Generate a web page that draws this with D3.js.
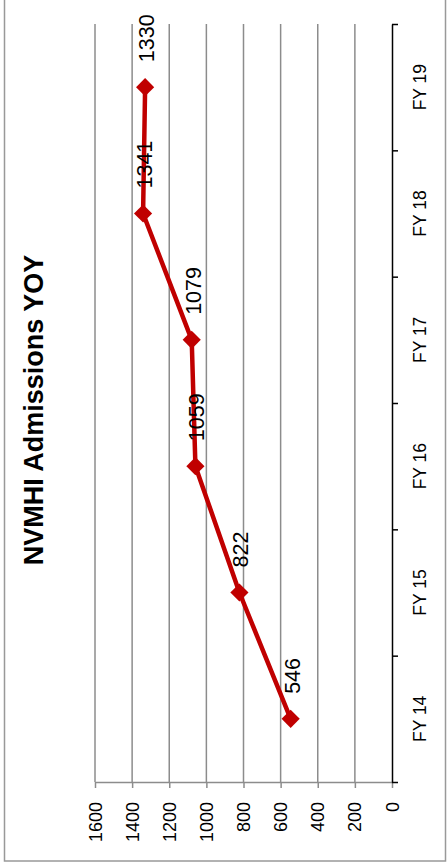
<!DOCTYPE html>
<html>
<head>
<meta charset="utf-8">
<script src="https://cdn.jsdelivr.net/npm/d3@7"></script>
<style>
  body { margin: 0; background: #fff; }
  text { font-family: "Liberation Sans", Arial, sans-serif; fill: #000; }
</style>
</head>
<body>
<div id="chart"></div>
<script>
// chart data (the chart is drawn turned a quarter turn, as in the picture)
const categories = ['FY 14', 'FY 15', 'FY 16', 'FY 17', 'FY 18', 'FY 19'];
const admissions = [546, 822, 1059, 1079, 1341, 1330];
const valueTicks = [0, 200, 400, 600, 800, 1000, 1200, 1400, 1600];
const title = 'NVMHI Admissions YOY';

const svgWidth = 448;
const svgHeight = 864;
const plot = { left: 95, right: 392, top: 24, bottom: 782 };
const lineColor = '#c00000';
const gridColor = '#8c8c8c';

const svg = d3.select('#chart').append('svg')
    .attr('width', svgWidth)
    .attr('height', svgHeight);

// outer chart border
svg.append('rect')
    .attr('x', 4.5)
    .attr('y', -5)
    .attr('width', 441)
    .attr('height', 866)
    .style('fill', 'none')
    .style('stroke', '#999')
    .style('stroke-width', 1.5);

// value scale runs right (0) to left (1600)
const xScale = d3.scaleLinear()
    .domain([0, 1600])
    .range([plot.right, plot.left]);

// categories run bottom to top
const yBand = d3.scaleBand()
    .domain(categories)
    .range([plot.bottom, plot.top]);

const yIndex = d3.scaleLinear()
    .domain([0, categories.length])
    .range([plot.bottom, plot.top]);

// gridlines
svg.append('g').selectAll('line')
    .data(valueTicks.filter(d => d > 0))
    .enter().append('line')
    .attr('x1', d => xScale(d))
    .attr('x2', d => xScale(d))
    .attr('y1', plot.top)
    .attr('y2', plot.bottom)
    .style('stroke', gridColor)
    .style('stroke-width', 1.5);

// value axis along the bottom
const xAxis = d3.axisBottom(xScale)
    .tickValues(valueTicks)
    .tickFormat(d3.format('d'))
    .tickSize(6)
    .tickSizeOuter(0);
const gx = svg.append('g')
    .attr('transform', `translate(0,${plot.bottom})`)
    .call(xAxis);
gx.select('.domain').style('stroke', gridColor).style('stroke-width', 1.5);
gx.selectAll('.tick line').style('stroke', gridColor).style('stroke-width', 1.5);
gx.selectAll('.tick text')
    .attr('y', 0)
    .attr('x', 0)
    .attr('dy', null)
    .attr('transform', 'translate(0,20) rotate(-90)')
    .attr('dominant-baseline', 'central')
    .style('text-anchor', 'end')
    .style('font-size', '18px')
    .style('font-family', '"Liberation Sans", Arial, sans-serif');

// category axis on the right, ticks between categories
const yAxis = d3.axisRight(yIndex)
    .tickValues(d3.range(0, categories.length + 1))
    .tickFormat('')
    .tickSize(6)
    .tickSizeOuter(0);
const gy = svg.append('g')
    .attr('transform', `translate(${plot.right},0)`)
    .call(yAxis);
gy.select('.domain').style('stroke', '#000').style('stroke-width', 1.5);
gy.selectAll('.tick line').style('stroke', '#000').style('stroke-width', 1.5);

svg.append('g').selectAll('text')
    .data(categories)
    .enter().append('text')
    .attr('transform', d => `translate(420,${yBand(d) + yBand.bandwidth() / 2}) rotate(-90)`)
    .attr('text-anchor', 'middle')
    .attr('dominant-baseline', 'central')
    .style('font-size', '17.5px')
    .text(d => d);

// the line
const points = categories.map((c, i) => ({ cat: c, value: admissions[i] }));
const line = d3.line()
    .x(d => xScale(d.value))
    .y(d => yBand(d.cat) + yBand.bandwidth() / 2);

svg.append('path')
    .datum(points)
    .attr('d', line)
    .style('fill', 'none')
    .style('stroke', lineColor)
    .style('stroke-width', 4.5)
    .style('stroke-linejoin', 'round');

// diamond markers
svg.append('g').selectAll('path')
    .data(points)
    .enter().append('path')
    .attr('d', d3.symbol(d3.symbolSquare, 165))
    .attr('transform', d => `translate(${xScale(d.value)},${yBand(d.cat) + yBand.bandwidth() / 2}) rotate(45)`)
    .style('fill', lineColor);

// data labels
svg.append('g').selectAll('text')
    .data(points)
    .enter().append('text')
    .attr('transform', d => `translate(${xScale(d.value) + 2},${yBand(d.cat) + yBand.bandwidth() / 2 - 25}) rotate(-90)`)
    .attr('text-anchor', 'start')
    .attr('dominant-baseline', 'central')
    .style('font-size', '21.5px')
    .text(d => d.value);

// title
svg.append('text')
    .attr('transform', 'translate(34,410) rotate(-90)')
    .attr('text-anchor', 'middle')
    .attr('dominant-baseline', 'central')
    .style('font-size', '27px')
    .style('font-weight', 'bold')
    .text(title);
</script>
</body>
</html>
